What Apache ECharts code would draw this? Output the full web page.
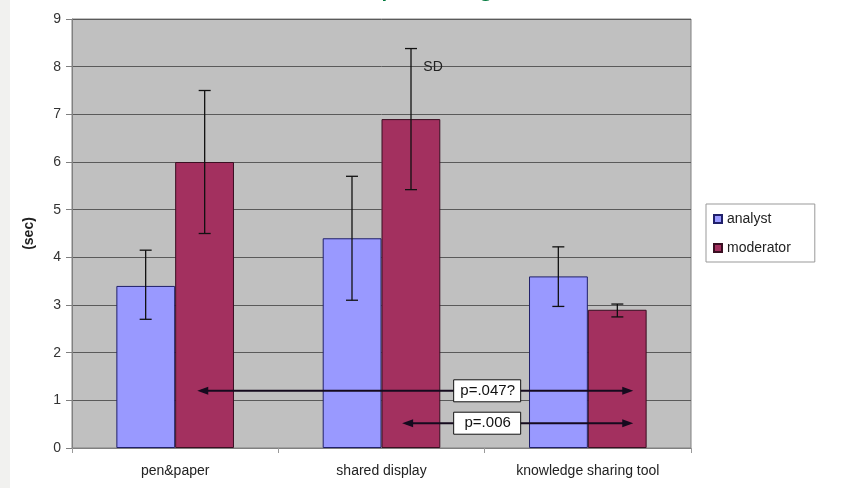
<!DOCTYPE html>
<html><head><meta charset="utf-8">
<script src="https://cdn.jsdelivr.net/npm/echarts@6/dist/echarts.min.js"></script>
<style>html,body{margin:0;padding:0;background:#fff}#c{width:845px;height:488px}</style>
</head><body><div id="c"></div>
<script>
const categories = ['pen&paper', 'shared display', 'knowledge sharing tool'];
const seriesNames = ['analyst', 'moderator'];
const analyst = [3.4, 4.4, 3.6];
const moderator = [6.0, 6.9, 2.9];
const analystLow = [2.7, 3.1, 2.97];
const analystHigh = [4.15, 5.7, 4.22];
const moderatorLow = [4.5, 5.42, 2.75];
const moderatorHigh = [7.5, 8.38, 3.02];
const yMin = 0, yMax = 9, yStep = 1;
// annotation arrows: start category position, end category position, y value, label
const arrowFrom = [0.107, 1.1];
const arrowTo = [2.22, 2.22];
const arrowY = [1.2, 0.52];
const arrowLabels = ['p=.047?', 'p=.006'];
const titleText = 'Time for planning';
const sdLabel = 'SD';
const sdPos = [1.25, 7.98];

const chart = echarts.init(document.getElementById('c'));
const font = 'Arial, "Liberation Sans", sans-serif';

function errData(low, high) { return low.map((l, i) => [i, l, high[i]]); }
function errSeries(low, high, idx) {
  return {
    type: 'custom', z: 5,
    data: errData(low, high),
    renderItem: function (params, api) {
      const c = api.value(0);
      const w = api.size([1, 0])[0];
      const off = (idx === 0 ? -0.143 : 0.143) * w;
      const lo = api.coord([c, api.value(1)]);
      const hi = api.coord([c, api.value(2)]);
      const x = lo[0] + off;
      const cap = 6;
      const st = { stroke: '#111', lineWidth: 1.3 };
      return { type: 'group', children: [
        { type: 'line', shape: { x1: x, y1: lo[1], x2: x, y2: hi[1] }, style: st },
        { type: 'line', shape: { x1: x - cap, y1: lo[1], x2: x + cap, y2: lo[1] }, style: st },
        { type: 'line', shape: { x1: x - cap, y1: hi[1], x2: x + cap, y2: hi[1] }, style: st }
      ]};
    }
  };
}

const arrowData = arrowFrom.map((f, i) => [f, arrowTo[i], arrowY[i]]);

chart.setOption({
  animation: false,
  backgroundColor: '#ffffff',
  textStyle: { fontFamily: font },
  graphic: [
    { type: 'rect', left: 0, top: 0, shape: { width: 10, height: 488 }, style: { fill: '#f1f1ef' }, z: -10 },
    { type: 'text', x: 379, y: 2, style: { text: titleText, fill: '#007a3d', font: '30px ' + font, textAlign: 'center', textVerticalAlign: 'bottom' } }
  ],
  legend: {
    orient: 'vertical', left: 706, top: 204,
    padding: [8, 24, 7, 7], itemGap: 15, itemWidth: 8, itemHeight: 8,
    borderColor: '#999', borderWidth: 1, backgroundColor: '#fff',
    icon: 'rect',
    textStyle: { fontSize: 14, color: '#222', fontFamily: font },
    data: seriesNames
  },
  grid: { left: 72, right: 154, top: 19, bottom: 40, show: true, backgroundColor: '#c0c0c0', borderColor: '#808080', borderWidth: 1 },
  xAxis: {
    type: 'category', data: categories,
    axisLine: { lineStyle: { color: '#808080' } },
    axisTick: { show: true, alignWithLabel: false, length: 5, lineStyle: { color: '#999' } },
    axisLabel: { fontSize: 14, color: '#222', margin: 16, fontFamily: font }
  },
  yAxis: {
    type: 'value', min: yMin, max: yMax, interval: yStep,
    name: '(sec)', nameLocation: 'middle', nameGap: 36, nameRotate: 90,
    nameTextStyle: { fontSize: 14, color: '#222', fontFamily: font, fontWeight: 'bold' },
    axisLine: { show: true, lineStyle: { color: '#808080' } },
    axisTick: { show: true, length: 6, lineStyle: { color: '#808080' } },
    axisLabel: { fontSize: 14, color: '#333', margin: 11, fontFamily: font },
    splitLine: { lineStyle: { color: '#5a5a5a', width: 1 } }
  },
  series: [
    { name: seriesNames[0], type: 'bar', data: analyst, barGap: '0%', barCategoryGap: '43%',
      itemStyle: { color: '#9999ff', borderColor: '#20206a', borderWidth: 1 } },
    { name: seriesNames[1], type: 'bar', data: moderator,
      itemStyle: { color: '#a3305f', borderColor: '#3a0f22', borderWidth: 1 } },
    errSeries(analystLow, analystHigh, 0),
    errSeries(moderatorLow, moderatorHigh, 1),
    {
      type: 'custom', z: 10, data: arrowData,
      renderItem: function (params, api) {
        const w = api.size([1, 0])[0];
        const f = api.value(0), t = api.value(1), yv = api.value(2);
        const base0 = api.coord([Math.floor(f), yv]);
        const base1 = api.coord([Math.floor(t), yv]);
        const x1 = base0[0] + (f - Math.floor(f)) * w;
        const x2 = base1[0] + (t - Math.floor(t)) * w;
        const y = base0[1];
        const mid = api.coord([1, yv])[0] + w * 0.5;
        const lbl = arrowLabels[params.dataIndex];
        const hl = 11, hw = 4;
        const stroke = '#150a1e';
        return { type: 'group', children: [
          { type: 'line', shape: { x1: x1 + 4, y1: y, x2: x2 - 4, y2: y }, style: { stroke: stroke, lineWidth: 2 } },
          { type: 'polygon', shape: { points: [[x1, y], [x1 + hl, y - hw], [x1 + hl, y + hw]] }, style: { fill: stroke } },
          { type: 'polygon', shape: { points: [[x2, y], [x2 - hl, y - hw], [x2 - hl, y + hw]] }, style: { fill: stroke } },
          { type: 'rect', shape: { x: mid - 31, y: y - 11, width: 67, height: 22 }, style: { fill: '#fff', stroke: '#111', lineWidth: 1 } },
          { type: 'text', style: { text: lbl, x: mid + 3, y: y, textAlign: 'center', textVerticalAlign: 'middle', font: '15px ' + font, fill: '#111' } }
        ]};
      }
    },
    {
      type: 'custom', z: 11, data: [[sdPos[0], sdPos[1]]],
      renderItem: function (params, api) {
        const w = api.size([1, 0])[0];
        const xv = api.value(0);
        const p = api.coord([Math.floor(xv), api.value(1)]);
        return { type: 'text', style: { text: sdLabel, x: p[0] + (xv - Math.floor(xv)) * w, y: p[1], textAlign: 'center', textVerticalAlign: 'middle', font: '14px ' + font, fill: '#222' } };
      }
    }
  ]
});
</script></body></html>
